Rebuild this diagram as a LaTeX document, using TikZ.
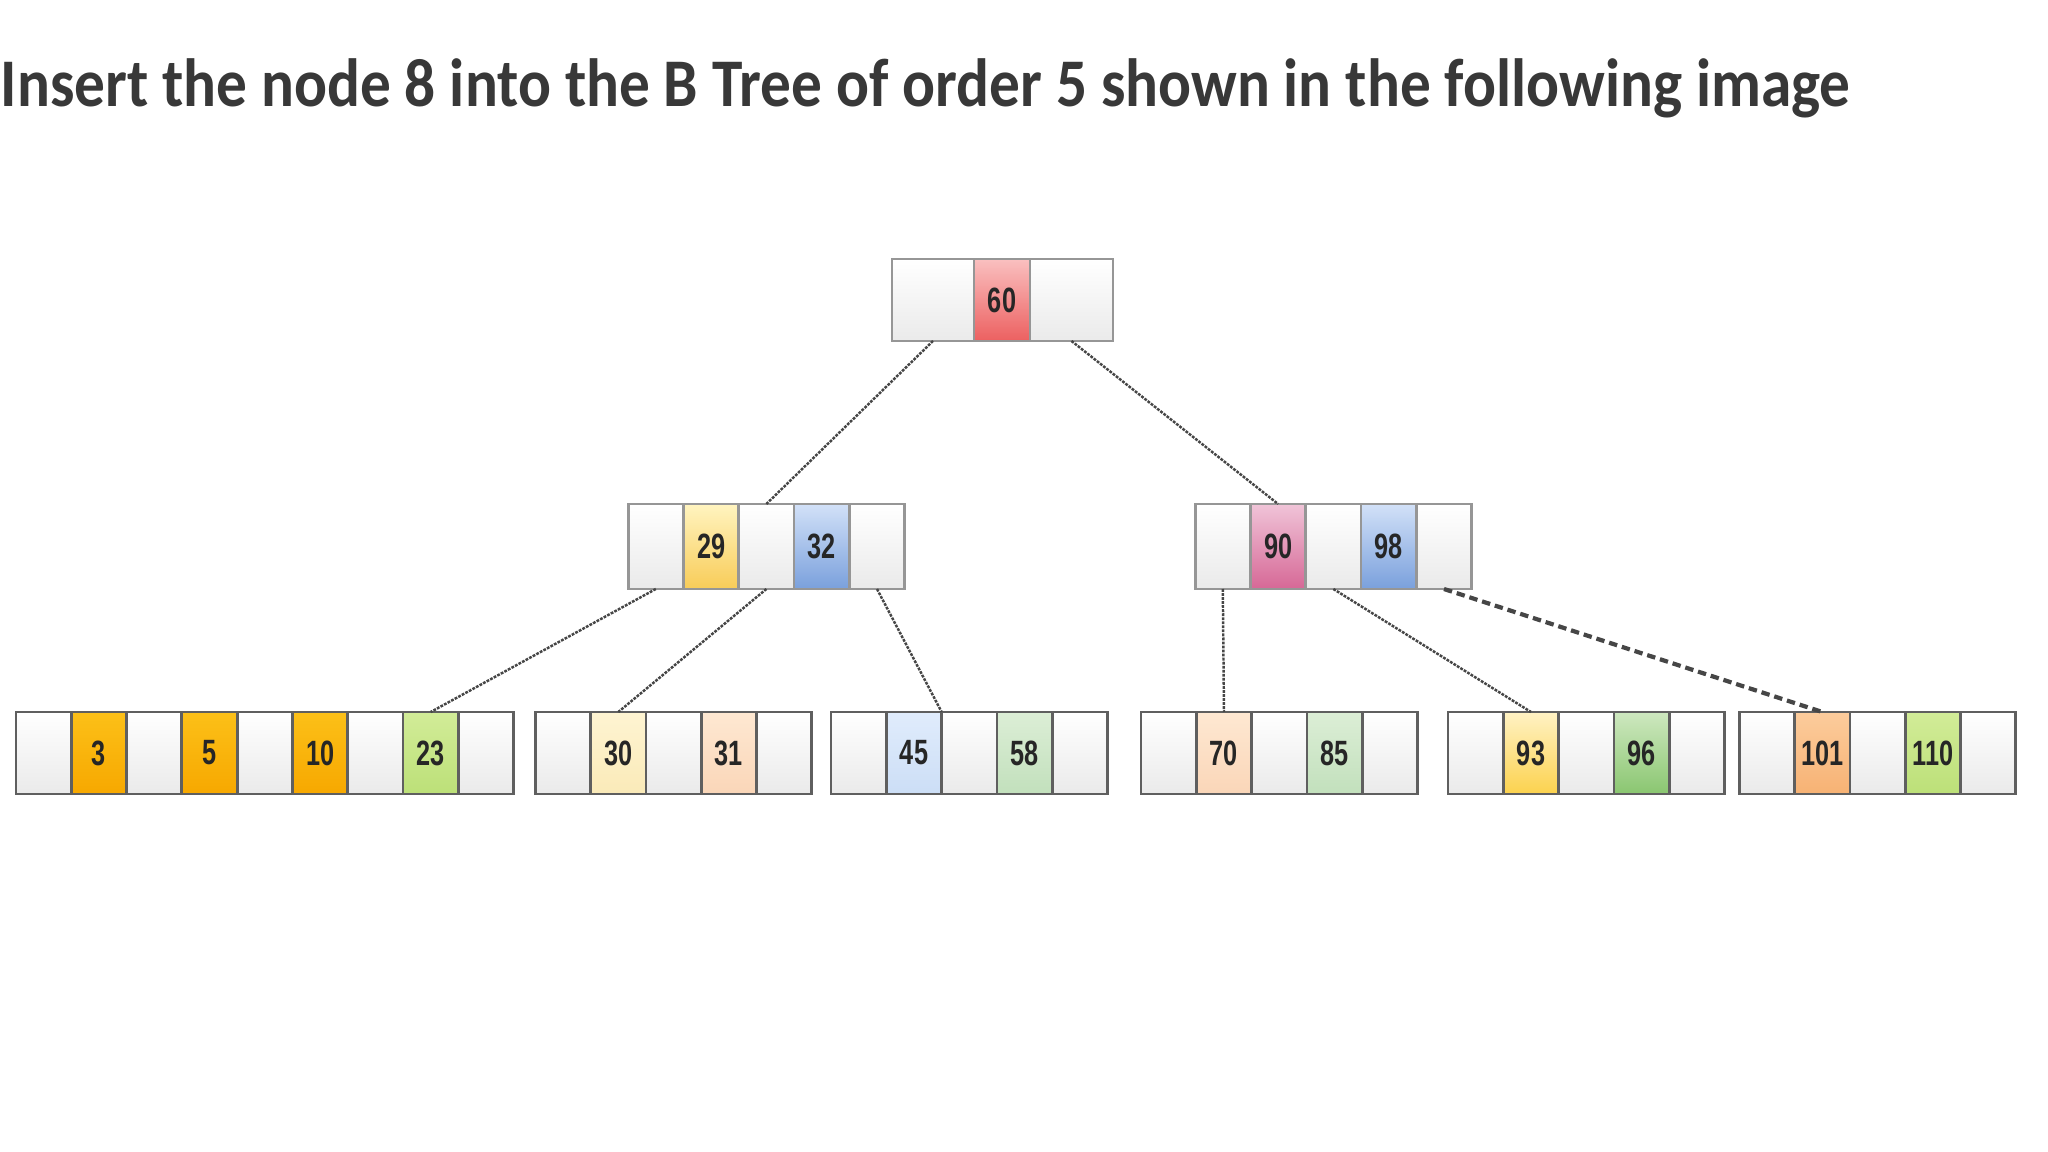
\documentclass[tikz,border=0pt]{standalone}
\usepackage{fontspec}
\setmainfont{Carlito}
\newfontfamily\cellfont[FakeStretch=0.72]{Liberation Sans}
\usepackage{tikz}
\usetikzlibrary{positioning}

\definecolor{titlegray}{RGB}{56,56,56}
\definecolor{edgegray}{RGB}{70,70,70}
\definecolor{leafline}{RGB}{95,95,95}
\definecolor{upperline}{RGB}{150,150,150}
\definecolor{emptybot}{RGB}{234,234,234}
\definecolor{redtop}{RGB}{250,192,192}
\definecolor{redbot}{RGB}{236,96,96}
\definecolor{yeltop}{RGB}{255,244,192}
\definecolor{yelbot}{RGB}{248,204,88}
\definecolor{bluetop}{RGB}{210,225,248}
\definecolor{bluebot}{RGB}{122,160,220}
\definecolor{pinktop}{RGB}{240,196,216}
\definecolor{pinkbot}{RGB}{214,104,150}
\definecolor{orangetop}{RGB}{252,192,24}
\definecolor{orangebot}{RGB}{247,168,0}
\definecolor{limetop}{RGB}{210,236,152}
\definecolor{limebot}{RGB}{188,224,120}
\definecolor{creamtop}{RGB}{254,244,210}
\definecolor{creambot}{RGB}{250,234,184}
\definecolor{peachtop}{RGB}{254,232,210}
\definecolor{peachbot}{RGB}{250,214,184}
\definecolor{skytop}{RGB}{224,236,252}
\definecolor{skybot}{RGB}{204,222,246}
\definecolor{mintop}{RGB}{220,238,214}
\definecolor{minbot}{RGB}{194,224,188}
\definecolor{goldtop}{RGB}{255,242,196}
\definecolor{goldbot}{RGB}{252,210,78}
\definecolor{greentop}{RGB}{206,232,192}
\definecolor{greenbot}{RGB}{138,198,112}
\definecolor{apricottop}{RGB}{252,204,156}
\definecolor{apricotbot}{RGB}{247,178,116}

\begin{document}
\begin{tikzpicture}[node distance=5.53mm,
    cell/.style={rectangle, minimum width=5.53mm, minimum height=8.2mm, inner sep=0pt, outer sep=0pt,
                 draw=leafline, line width=0.8pt, top color=white, bottom color=emptybot,
                 text=black!85, font=\cellfont\fontsize{10}{12}\selectfont\bfseries},
    key/.style 2 args={cell, top color=#1, bottom color=#2},
    upper/.style={minimum height=8.5mm, draw=upperline},
    link/.style={draw=edgegray, line width=0.7pt, dash pattern=on 0.8pt off 0.35pt},
    dlink/.style={draw=edgegray, line width=1.2pt, dash pattern=on 2.4pt off 1.4pt}]
    \useasboundingbox (0,0) rectangle (20.48,-11.52);

    \node[anchor=base west, inner sep=0pt, text=titlegray, font=\fontsize{19.4}{23}\selectfont\bfseries] (title) at (0.0,-1.07)
        {\scalebox{0.9}[1]{Insert the node 8 into the B Tree of order 5 shown in the following image}};

    % root
    \node[cell, upper, minimum height=8.2mm, minimum width=8.2mm] (r1) at (9.33,-3.00) {};
    \node[key={redtop}{redbot}, upper, minimum height=8.2mm, minimum width=5.6mm] (r2) at (10.02,-3.00) {60};
    \node[cell, upper, minimum height=8.2mm, minimum width=8.3mm] (r3) at (10.715,-3.00) {};

    % second level
    \node[cell, upper] (m1a) at (6.558,-5.465) {};
    \node[key={yeltop}{yelbot}, upper]   (m1b) [right of=m1a] {29};
    \node[cell, upper]                   (m1c) [right of=m1b] {};
    \node[key={bluetop}{bluebot}, upper] (m1d) [right of=m1c] {32};
    \node[cell, upper]                   (m1e) [right of=m1d] {};

    \node[cell, upper] (m2a) at (12.228,-5.465) {};
    \node[key={pinktop}{pinkbot}, upper] (m2b) [right of=m2a] {90};
    \node[cell, upper]                   (m2c) [right of=m2b] {};
    \node[key={bluetop}{bluebot}, upper] (m2d) [right of=m2c] {98};
    \node[cell, upper]                   (m2e) [right of=m2d] {};

    % leaves
    \node[cell] (l1a) at (0.436,-7.53) {};
    \node[key={orangetop}{orangebot}] (l1b) [right of=l1a] {3};
    \node[cell]                       (l1c) [right of=l1b] {};
    \node[key={orangetop}{orangebot}] (l1d) [right of=l1c] {5};
    \node[cell]                       (l1e) [right of=l1d] {};
    \node[key={orangetop}{orangebot}] (l1f) [right of=l1e] {10};
    \node[cell]                       (l1g) [right of=l1f] {};
    \node[key={limetop}{limebot}]     (l1h) [right of=l1g] {23};
    \node[cell]                       (l1i) [right of=l1h] {};

    \node[cell] (l2a) at (5.63,-7.53) {};
    \node[key={creamtop}{creambot}] (l2b) [right of=l2a] {30};
    \node[cell]                     (l2c) [right of=l2b] {};
    \node[key={peachtop}{peachbot}] (l2d) [right of=l2c] {31};
    \node[cell]                     (l2e) [right of=l2d] {};

    \node[cell] (l3a) at (8.587,-7.53) {};
    \node[key={skytop}{skybot}] (l3b) [right of=l3a] {45};
    \node[cell]                 (l3c) [right of=l3b] {};
    \node[key={mintop}{minbot}] (l3d) [right of=l3c] {58};
    \node[cell]                 (l3e) [right of=l3d] {};

    \node[cell] (l4a) at (11.687,-7.53) {};
    \node[key={peachtop}{peachbot}] (l4b) [right of=l4a] {70};
    \node[cell]                     (l4c) [right of=l4b] {};
    \node[key={mintop}{minbot}]     (l4d) [right of=l4c] {85};
    \node[cell]                     (l4e) [right of=l4d] {};

    \node[cell] (l5a) at (14.757,-7.53) {};
    \node[key={goldtop}{goldbot}]   (l5b) [right of=l5a] {93};
    \node[cell]                     (l5c) [right of=l5b] {};
    \node[key={greentop}{greenbot}] (l5d) [right of=l5c] {96};
    \node[cell]                     (l5e) [right of=l5d] {};

    \node[cell] (l6a) at (17.67,-7.53) {};
    \node[key={apricottop}{apricotbot}] (l6b) [right of=l6a] {101};
    \node[cell]                         (l6c) [right of=l6b] {};
    \node[key={limetop}{limebot}]       (l6d) [right of=l6c] {110};
    \node[cell]                         (l6e) [right of=l6d] {};

    \path (r1.south)  edge[link]  (m1c.north)
          (r3.south)  edge[link]  (m2b.north)
          (m1a.south) edge[link]  (l1h.north)
          (m1c.south) edge[link]  (l2b.north)
          (m1e.south) edge[link]  (l3b.north east)
          (m2a.south) edge[link]  (l4b.north)
          (m2c.south) edge[link]  (l5b.north)
          (m2e.south) edge[dlink] (l6b.north);
\end{tikzpicture}
\end{document}
